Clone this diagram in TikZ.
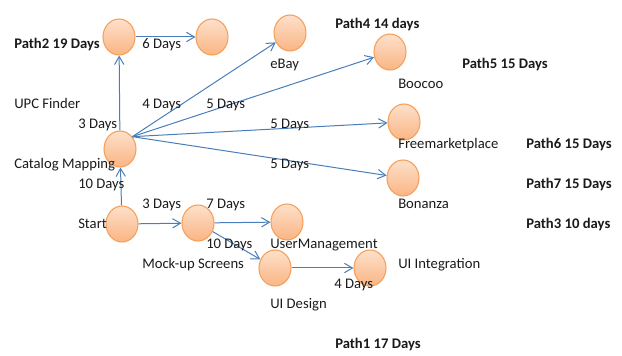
\documentclass[tikz,border=0pt]{standalone}
\usepackage{fontspec}
\setmainfont{Carlito}
\usetikzlibrary{arrows.meta,shapes.geometric}
\definecolor{edgeblue}{HTML}{4A7EBB}
\definecolor{ringor}{HTML}{F5A05A}
\definecolor{toporange}{HTML}{FDE0CB}
\definecolor{botorange}{HTML}{FAB583}
\definecolor{txt}{HTML}{1A1A1A}
\tikzset{
  evt/.style={ellipse, draw=ringor, line width=0.8pt, top color=toporange, bottom color=botorange,
    minimum width=24, minimum height=27, inner sep=0pt},
  lbl/.style={anchor=base west, inner sep=0pt, text=txt, font=\fontsize{11pt}{13pt}\selectfont},
  plbl/.style={lbl, font=\fontsize{11pt}{13pt}\selectfont\bfseries},
  conn/.style={draw=edgeblue, line width=0.75pt, -{Straight Barb[length=6pt,width=7pt]}}
}
\begin{document}
\begin{tikzpicture}[x=0.75pt,y=-0.75pt]
\useasboundingbox (0,0) rectangle (622,356);
% events
\node[evt] (upc) at (119,37) {};
\node[evt] (upcend) at (212,37) {};
\node[evt] (ebay) at (290,33) {};
\node[evt] (boocoo) at (390,52) {};
\node[evt] (fmp) at (404,122) {};
\node[evt] (bonanza) at (403,178) {};
\node[evt] (cat) at (120,149) {};
\node[evt] (start) at (122,224) {};
\node[evt] (mock) at (198,223) {};
\node[evt] (user) at (287,222) {};
\node[evt] (uid) at (275,268) {};
\node[evt] (uii) at (370,268) {};
\coordinate (catr) at (cat.45);
% connectors
\draw[conn] (upc) -- (upcend);
\draw[conn] (cat) -- (upc);
\draw[conn] (start) -- (cat);
\draw[conn] (catr) -- (ebay);
\draw[conn] (catr) -- (boocoo);
\draw[conn] (catr) -- (fmp);
\draw[conn] (catr) -- (bonanza);
\draw[conn] (start) -- (mock);
\draw[conn] (mock) -- (user);
\draw[conn] (mock) -- (uid);
\draw[conn] (uid) -- (uii);
% labels
\node[plbl] (p2) at (14,49) {Path2 19 Days};
\node[lbl] (d6) at (142,49) {6 Days};
\node[plbl] (p4) at (335,29) {Path4 14 days};
\node[lbl] (lebay) at (270,69) {eBay};
\node[plbl] (p5) at (462,69) {Path5 15 Days};
\node[lbl] (lboo) at (398,89) {Boocoo};
\node[lbl] (lupc) at (14,109) {UPC Finder};
\node[lbl] (d4a) at (142,109) {4 Days};
\node[lbl] (d5a) at (206,109) {5 Days};
\node[lbl] (d3a) at (78,129) {3 Days};
\node[lbl] (d5b) at (270,129) {5 Days};
\node[lbl] (lfmp) at (398,149) {Freemarketplace};
\node[plbl] (p6) at (526,149) {Path6 15 Days};
\node[lbl] (lcat) at (14,169) {Catalog Mapping};
\node[lbl] (d5c) at (270,169) {5 Days};
\node[lbl] (d10a) at (78,189) {10 Days};
\node[plbl] (p7) at (526,189) {Path7 15 Days};
\node[lbl] (lbon) at (398,209) {Bonanza};
\node[lbl] (d3b) at (142,209) {3 Days};
\node[lbl] (d7) at (206,209) {7 Days};
\node[lbl] (lstart) at (78,229) {Start};
\node[plbl] (p3) at (526,229) {Path3 10 days};
\node[lbl] (d10b) at (206,249) {10 Days};
\node[lbl] (luser) at (270,249) {UserManagement};
\node[lbl] (lmock) at (142,269) {Mock-up Screens};
\node[lbl] (luii) at (398,269) {UI Integration};
\node[lbl] (d4b) at (334,289) {4 Days};
\node[lbl] (luid) at (270,309) {UI Design};
\node[plbl] (p1) at (335,349) {Path1 17 Days};
\end{tikzpicture}
\end{document}
